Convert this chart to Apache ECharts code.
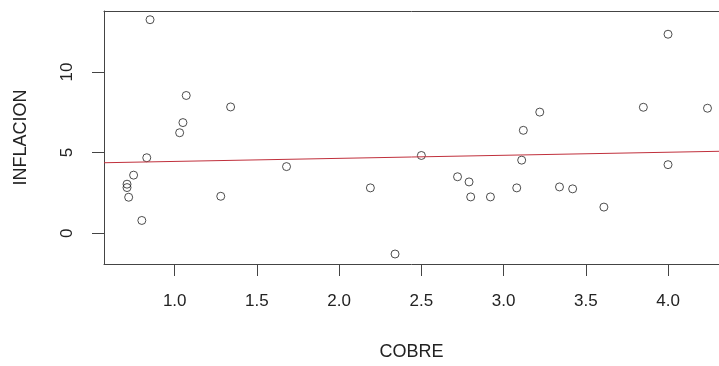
<!DOCTYPE html>
<html>
<head>
<meta charset="utf-8">
<script src="https://cdn.jsdelivr.net/npm/echarts@6/dist/echarts.min.js"></script>
<style>
html,body{margin:0;padding:0;background:#fff;}
#chart{width:719px;height:366px;}
</style>
</head>
<body>
<div id="chart"></div>
<script>
// copper price vs inflation
var cobre = [0.85, 1.07, 1.34, 1.05, 1.03, 0.83, 1.68, 0.75, 0.71, 0.71, 0.72, 1.28, 0.80,
             4.00, 3.85, 4.24, 3.22, 3.12, 2.50, 3.11, 4.00, 2.72, 2.79, 2.19, 3.08, 3.34, 3.42, 2.80, 2.92, 3.61, 2.34];
var inflacion = [13.24, 8.54, 7.83, 6.86, 6.23, 4.68, 4.13, 3.60, 3.04, 2.83, 2.23, 2.29, 0.79,
                 12.34, 7.81, 7.75, 7.51, 6.38, 4.82, 4.53, 4.25, 3.50, 3.18, 2.81, 2.81, 2.87, 2.75, 2.25, 2.25, 1.62, -1.29];
// fitted line endpoints
var fitX = [0.57, 4.31];
var fitY = [4.37, 5.08];
var xTicks = [1.0, 1.5, 2.0, 2.5, 3.0, 3.5, 4.0];
var yTicks = [0, 5, 10];

var Chart = {
	init: function(){
		var myChart = echarts.init(document.getElementById('chart'));
		var pts = cobre.map(function(v, i){ return [v, inflacion[i]]; });
		var fit = fitX.map(function(v, i){ return [v, fitY[i]]; });
		var font = 'Liberation Sans, Arial, sans-serif';
		var boxLine = {show: true, onZero: false, lineStyle: {color: '#444', width: 1}};
		var option = {
			animation: false,
			backgroundColor: '#fff',
			grid: {left: 104, top: 11, bottom: 96, right: 0},
			xAxis: [
				{
					type: 'value',
					min: 0.57, max: 4.31,
					name: 'COBRE',
					nameLocation: 'middle',
					nameGap: 79,
					nameTextStyle: {color: '#222', fontSize: 18, fontFamily: font},
					axisLine: boxLine,
					splitLine: {show: false},
					axisTick: {show: true, length: 12, customValues: xTicks, lineStyle: {color: '#444'}},
					axisLabel: {
						customValues: xTicks,
						margin: 29,
						color: '#222', fontSize: 17, fontFamily: font,
						formatter: function(v){ return v.toFixed(1); }
					}
				},
				{
					// top edge of the box only
					type: 'value', position: 'top',
					min: 0.57, max: 4.31,
					axisLine: boxLine,
					axisTick: {show: false},
					axisLabel: {show: false},
					splitLine: {show: false}
				}
			],
			yAxis: {
				type: 'value',
				min: -1.91, max: 13.78,
				name: 'INFLACION',
				nameLocation: 'middle',
				nameGap: 74,
				nameTextStyle: {color: '#222', fontSize: 18, fontFamily: font},
				axisLine: boxLine,
				splitLine: {show: false},
				axisTick: {show: true, length: 12, customValues: yTicks, lineStyle: {color: '#444'}},
				axisLabel: {
					customValues: yTicks,
					rotate: 90,
					margin: 28,
					color: '#222', fontSize: 17, fontFamily: font
				}
			},
			series: [
				{
					name: 'puntos',
					type: 'scatter',
					symbol: 'circle',
					symbolSize: 8,
					itemStyle: {color: 'rgba(255,255,255,0)', borderColor: '#222', borderWidth: 1},
					data: pts
				},
				{
					name: 'ajuste',
					type: 'line',
					showSymbol: false,
					silent: true,
					lineStyle: {color: '#c0303c', width: 1},
					data: fit
				}
			]
		};
		myChart.setOption(option);
	}
};
Chart.init();
</script>
</body>
</html>
